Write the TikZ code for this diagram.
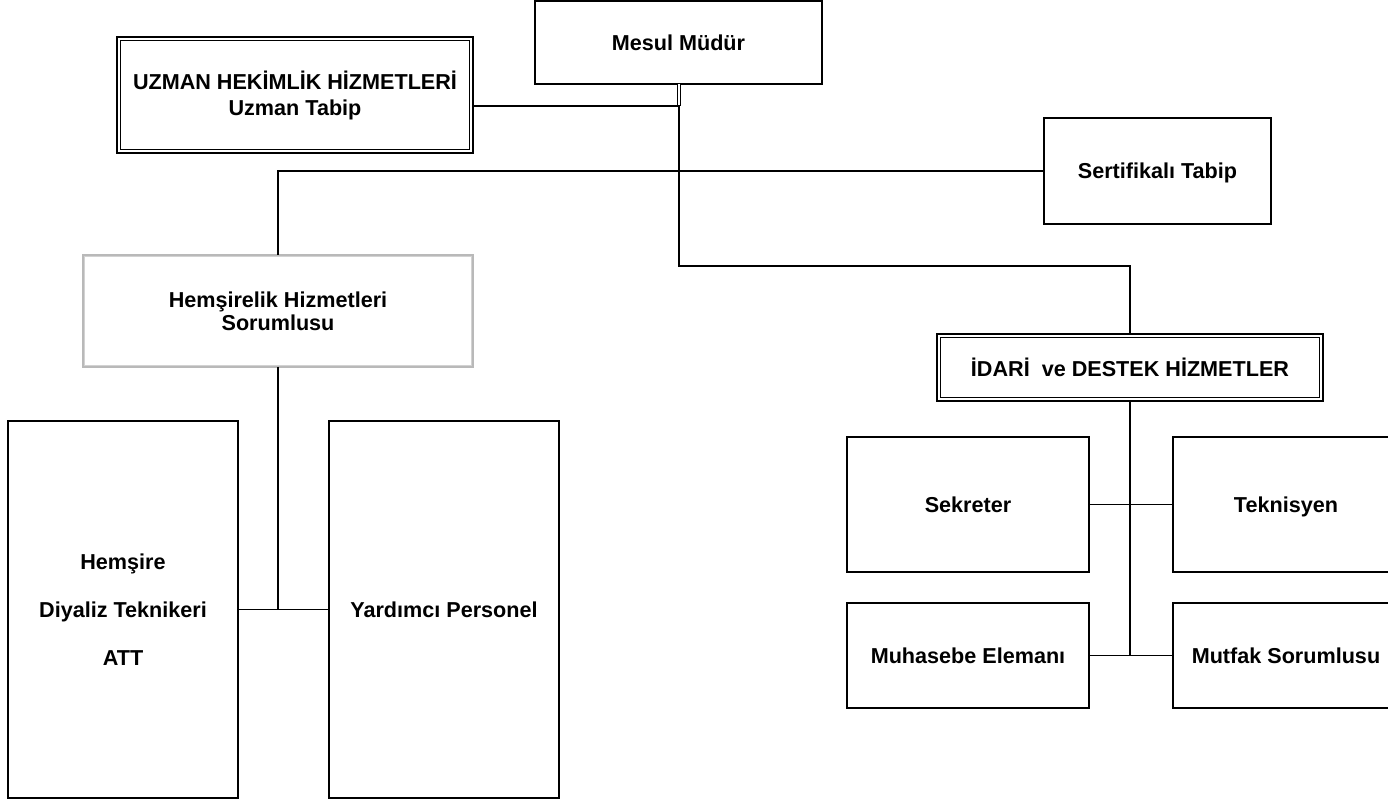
\documentclass[tikz,border=0pt]{standalone}
\usepackage{fontspec}
\setmainfont{Liberation Sans}

\tikzset{
  unitbox/.style={draw, line width=0.75pt, inner sep=0pt, outer sep=0pt, align=center,
    font=\bfseries\fontsize{10.8}{11.5}\selectfont},
  framebox/.style={unitbox, line width=1.35pt},
  greybox/.style={unitbox, draw=gray!55, line width=0.6pt},
  link/.style={line width=0.7pt},
  dbllink/.style={line width=0.4pt, double, double distance=0.8pt}
}

\begin{document}
\begin{tikzpicture}[x=0.5pt, y=-0.5pt]
    \useasboundingbox (0,0) rectangle (1388,801);
    \clip (0,0) rectangle (1388,801);

    % Top level
    \node[unitbox, minimum width=143.5pt, minimum height=41.5pt] (mesul) at (678.5,42.5) {Mesul Müdür};
    \node[framebox, minimum width=178pt, minimum height=58pt, font=\bfseries\fontsize{10.8}{13}\selectfont]
        (uzman) at (295,95) {UZMAN HEKİMLİK HİZMETLERİ\\Uzman Tabip};
    \node[unitbox, minimum width=113.5pt, minimum height=53pt, text depth=0pt] (sert) at (1157.5,171) {Sertifikalı Tabip};

    % Nursing branch
    \node[greybox, minimum width=195pt, minimum height=56pt] (hem) at (278,311)
        {Hemşirelik Hizmetleri\\Sorumlusu};
    \node[unitbox, minimum width=115pt, minimum height=188.5pt] (hemsire) at (123,609.5)
        {Hemşire\\[12.5pt]Diyaliz Teknikeri\\[12.5pt]ATT};
    \node[unitbox, minimum width=115pt, minimum height=188.5pt] (yardimci) at (444,609.5) {Yardımcı Personel};

    % Administrative branch
    \node[framebox, minimum width=193pt, minimum height=33.5pt] (idari) at (1130,367.5)
        {İDARİ\ \ ve DESTEK HİZMETLER};
    \node[unitbox, minimum width=121pt, minimum height=67.5pt] (sekreter) at (968,504.5) {Sekreter};
    \node[unitbox, minimum width=113pt, minimum height=67.5pt, text depth=0pt] (teknisyen) at (1286,504.5) {Teknisyen};
    \node[unitbox, minimum width=121pt, minimum height=52.5pt] (muhasebe) at (968,655.5) {Muhasebe Elemanı};
    \node[unitbox, minimum width=113pt, minimum height=52.5pt] (mutfak) at (1286,655.5) {Mutfak Sorumlusu};

    % inner frame lines
    \foreach \n in {uzman,idari}
        \draw[line width=0.65pt] ([shift={(1.9pt,-1.9pt)}]\n.north west) rectangle ([shift={(-1.9pt,1.9pt)}]\n.south east);
    \draw[gray!35, line width=0.5pt] ([shift={(0.6pt,-0.6pt)}]hem.north west) rectangle ([shift={(-0.6pt,0.6pt)}]hem.south east);

    % Connectors
    \coordinate (jU) at (679,106);
    \coordinate (jI) at (679,266);
    \draw[dbllink] (mesul.south -| jU) -- (jU);
    \draw[link] (uzman.east |- jU) -- (jU) -- (jI) -| (idari.north);
    \draw[link] (hem.north) |- (sert.west);
    \draw[link] (hem.south) -- (hem.south |- hemsire.east);
    \draw[link] (hemsire.east) -- (yardimci.west);
    \draw[link] (idari.south) -- (idari.south |- muhasebe.east);
    \draw[link] (sekreter.east) -- (teknisyen.west);
    \draw[link] (muhasebe.east) -- (mutfak.west);
\end{tikzpicture}
\end{document}
